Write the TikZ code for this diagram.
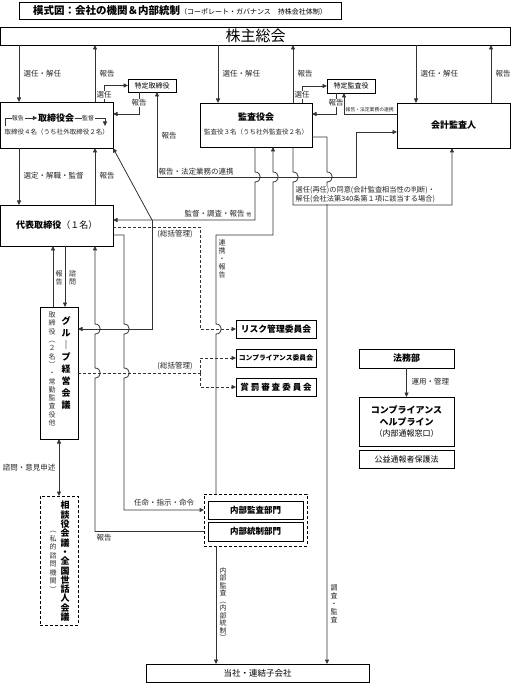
\documentclass[tikz,border=0pt]{standalone}
\usepackage{fontspec}
\setmainfont{Noto Sans CJK JP}
\usetikzlibrary{arrows.meta}
\newcommand\fsz[1]{\fontsize{#1}{#1}\selectfont}
\def\vsEnd{}
\def\vsA#1{\ifx#1\vsEnd\else\hbox to 1em{\hss#1\hss}\expandafter\vsA\fi}
\newcommand\vstack[2]{\vbox{\baselineskip=#1\relax\lineskip=0pt\relax\lineskiplimit=-\maxdimen\vsA#2\vsEnd}}
\newcommand\bd[2]{-- (#1,#2-5) .. controls (#1+7,#2-5) and (#1+7,#2+5) .. (#1,#2+5)}
\newcommand\bu[2]{-- (#1,#2+5) .. controls (#1+7,#2+5) and (#1+7,#2-5) .. (#1,#2-5)}
\tikzset{
  ln/.style={draw=black!80, line width=0.8pt},
  arr/.style={ln, -{Triangle[length=4.5pt,width=4pt]}},
  darr/.style={ln, {Triangle[length=4.5pt,width=4pt]}-{Triangle[length=4.5pt,width=4pt]}},
  dsh/.style={ln, dash pattern=on 3pt off 2pt},
  dsharr/.style={dsh, -{Triangle[length=4.5pt,width=4pt]}},
  box/.style={draw=black, line width=0.9pt, fill=white, inner sep=0pt, outer sep=0pt, align=center},
  dbox/.style={box, dash pattern=on 3pt off 2pt},
  lab/.style={inner sep=0.5pt, text=black!85, font=\fsz{7.5}},
  wlab/.style={lab, fill=white},
  vlab/.style={inner sep=0pt, anchor=north, text=black!85, font=\fsz{7}},
}
\begin{document}
\begin{tikzpicture}[x=1pt,y=-1pt]
\useasboundingbox (0,0) rectangle (511,684);
\fill[white] (0,0) rectangle (511,684);
% ---------- coordinates
\coordinate (x19) at (19,0);   \coordinate (x53) at (53,0);   \coordinate (x65) at (65,0);
\coordinate (x95) at (95,0);   \coordinate (x104) at (104,0); \coordinate (x139) at (139,0);
\coordinate (x157) at (157,0); \coordinate (x216) at (216,0); \coordinate (x218) at (218,0);
\coordinate (x255) at (255,0); \coordinate (x273) at (273,0); \coordinate (x293) at (293,0);
\coordinate (x302) at (302,0); \coordinate (x327) at (327,0); \coordinate (x336) at (336,0);
\coordinate (x344) at (344,0); \coordinate (x416) at (416,0); \coordinate (x452) at (452,0);
\coordinate (x491) at (491,0);
\coordinate (y114) at (0,114); \coordinate (y132) at (0,132); \coordinate (y137) at (0,137);
\coordinate (y220) at (0,220); \coordinate (y227) at (0,227); \coordinate (y235) at (0,235);
% ---------- boxes
\node[box, minimum width=322pt, minimum height=17pt] (title) at (180,10.5)
  {{\bfseries\fsz{10.5}模式図：会社の機関＆内部統制}{\fsz{7}（コーポレート・ガバナンス　持株会社体制）}};
\node[box, minimum width=510pt, minimum height=18pt, font=\fsz{15}] (kabu) at (255.5,36) {株主総会};
\node[box, minimum width=112.5pt, minimum height=46pt] (tk) at (56.75,125) {};
\node[box, minimum width=48pt, minimum height=13pt, font=\fsz{7}] (tt) at (152,85.5) {特定取締役};
\node[box, minimum width=112pt, minimum height=44pt] (kk) at (256,125) {};
\node[box, minimum width=48pt, minimum height=14pt, font=\fsz{7}] (tka) at (351,86) {特定監査役};
\node[box, minimum width=113pt, minimum height=45pt, font=\bfseries\fsz{9}] (ka) at (453.5,125.5) {会計監査人};
\node[box, minimum width=112.5pt, minimum height=41pt, font=\bfseries\fsz{9}] (dh) at (56.75,225.5) {代表取締役{\mdseries（１名）}};
\node[box, minimum width=38pt, minimum height=132pt] (gr) at (59,373) {};
\node[box, minimum width=80pt, minimum height=18pt, font=\bfseries\fsz{8.8}] (risk) at (276,329) {リスク管理委員会};
\node[box, minimum width=80pt, minimum height=18pt, font=\bfseries\fsz{6.8}] (comp) at (276,358) {コンプライアンス委員会};
\node[box, minimum width=80pt, minimum height=18pt, font=\bfseries\fsz{8.5}] (shou) at (276,387)
  {賞\hspace{2pt}罰\hspace{2pt}審\hspace{2pt}査\hspace{2pt}委\hspace{2pt}員\hspace{2pt}会};
\node[box, minimum width=95pt, minimum height=19pt, font=\bfseries\fsz{9}] (houmu) at (406.5,358.5) {法務部};
\node[box, minimum width=95pt, minimum height=49pt, font=\bfseries\fontsize{9}{11.5}\selectfont] (help) at (406.5,421.5)
  {コンプライアンス\\ヘルプライン\\{\mdseries\fsz{8}（内部通報窓口）}};
\node[box, minimum width=95pt, minimum height=18pt, font=\fsz{8}] (koueki) at (406.5,459) {公益通報者保護法};
\node[dbox, minimum width=38pt, minimum height=129pt] (soudan) at (59,560.5) {};
\node[dbox, minimum width=103pt, minimum height=52pt] (ngrp) at (255.5,520) {};
\node[box, minimum width=95pt, minimum height=18pt, font=\bfseries\fsz{8.5}] (nk) at (255.5,510) {内部監査部門};
\node[box, minimum width=95pt, minimum height=19pt, font=\bfseries\fsz{8.5}] (nt) at (255.5,531.5) {内部統制部門};
\node[box, minimum width=223pt, minimum height=18pt, font=\fsz{8.5}] (tousha) at (257.5,673) {当社・連結子会社};
% ---------- box inner texts
\node[inner sep=0.5pt, font=\bfseries\fsz{9}] (tkt) at (56,118) {取締役会};
\node[lab, font=\fsz{6.5}] (tks) at (56.75,132) {取締役４名（うち社外取締役２名）};
\node[inner sep=0.5pt, font=\bfseries\fsz{9}] (kkt) at (256,117) {監査役会};
\node[lab, font=\fsz{6.5}] (kks) at (256,132) {監査役３名（うち社外監査役２名）};
\node[inner sep=0pt, anchor=north, font=\bfseries\fsz{9}] (grt) at (66,316) {\vstack{12pt}{グル｜プ経営会議}};
\node[inner sep=0pt, anchor=north, font=\fsz{7}, text=black!80] (grs) at (52,312) {\vstack{8.3pt}{取締役︵２名︶・常勤監査役他}};
\node[inner sep=0pt, anchor=north, font=\bfseries\fsz{9}] (sdt) at (65,501) {\vstack{9.3pt}{相談役会議・全国世話人会議}};
\node[inner sep=0pt, anchor=north, font=\fsz{7}, text=black!80] (sds) at (53,531) {\vstack{8.5pt}{︵私的諮問機関︶}};
% ---------- connectors
\coordinate (tkL) at (5,126);
\coordinate (tkR) at (105,126);
\draw[arr] (tkL) -- (5,118) -- (tkt.west);
\draw[arr] (tkt.east) -- (105,118) -- (tkR);
\draw[arr] (kabu.south -| x19) -- (tk.north -| x19);
\draw[arr] (tk.north -| x95) -- (kabu.south -| x95);
\draw[arr] (tk.north -| x104) |- (tt.west);
\draw[arr] (tt.south -| x139) |- (tk.east |- y114);
\draw[darr] (tt.south -| x157) -- (157,177) -- (356,177) -- (356,132) -- (ka.west |- y132);
\draw[arr] (kabu.south -| x218) -- (kk.north -| x218);
\draw[arr] (kk.north -| x293) -- (kabu.south -| x293);
\draw[arr] (kk.north -| x302) |- (tka.west);
\draw[arr] (tka.south -| x336) |- (kk.east |- y114);
\draw[arr] (ka.west |- y114) -| (tka.south -| x344);
\draw[arr] (kabu.south -| x416) -- (ka.north -| x416);
\draw[arr] (ka.north -| x491) -- (kabu.south -| x491);
\draw[arr] (tk.south -| x19) -- (dh.north -| x19);
\draw[arr] (dh.north -| x95) -- (tk.south -| x95);
% from 監査役会
\coordinate (j1) at (152,220);
\draw[arr] (kk.south -| x255) \bd{255}{177} -- (255,220) -- (dh.east |- y220);
\draw[arr] (j1) -- (tk.south east);
\draw[arr] (j1) -- (152,329) -- (gr.east |- risk.west);
\draw[arr] (ngrp.north -| x216) \bu{216}{329} -- (216,235) -- (273,235) \bu{273}{177} -- (kk.south -| x273);
\draw[arr] (kk.south -| x293) \bd{293}{177} -- (293,205) -- (452,205) -- (ka.south -| x452);
\draw[arr] (kk.east |- y137) -- (327,137) \bd{327}{177} -- (tousha.north -| x327);
% from 代表取締役
\draw[arr] (dh.east |- y235) -- (124,235) \bd{124}{329} \bd{124}{373} |- (ngrp.west |- nk);
\draw[arr] (ngrp.west |- nt) -- (95,531.5) \bu{95}{373} \bu{95}{329} -- (dh.south -| x95);
\draw[arr] (gr.north -| x53) -- (dh.south -| x53);
\draw[arr] (dh.south -| x65) -- (gr.north -| x65);
\draw[dsharr] (dh.east |- y227) -| (200,329) -- (risk.west);
\coordinate (j2) at (200,373);
\draw[dsh] (gr.east) -- (j2);
\draw[dsharr] (j2) |- (comp.west);
\draw[dsharr] (j2) |- (shou.west);
\draw[arr] (houmu.south) -- (help.north);
\draw[darr] (gr.south) -- (soudan.north);
\draw[arr] (ngrp.south -| x216) -- (tousha.north -| x216);
% ---------- labels
\node[wlab, font=\fsz{6}] (lh) at (18,118) {報告};
\node[wlab, font=\fsz{6}] (lk) at (88,118) {監督};
\node[lab, anchor=west] (l1) at (23,74) {選任・解任};
\node[lab, anchor=west] (l2) at (99,74) {報告};
\node[wlab] (l3) at (104,95) {選任};
\node[wlab] (l4) at (139,103) {報告};
\node[lab, anchor=west] (l5) at (161,136) {報告};
\node[lab, anchor=south west] (l6) at (158,176) {報告・法定業務の連携};
\node[lab, anchor=west] (l7) at (222,74) {選任・解任};
\node[lab, anchor=west] (l8) at (297,74) {報告};
\node[wlab] (l9) at (302,95) {選任};
\node[wlab] (l10) at (336,103) {報告};
\node[lab, anchor=south west, font=\fsz{4.8}] (l11) at (345,113) {報告・法定業務の連携};
\node[lab, anchor=west] (l12) at (420,74) {選任・解任};
\node[lab, anchor=west] (l13) at (495,74) {報告};
\node[lab, anchor=west] (l14) at (23,176) {選定・解職・監督};
\node[lab, anchor=west] (l15) at (99,176) {報告};
\node[lab, anchor=south east] (l16) at (252,218) {監督・調査・報告 {\fsz{5}他}};
\node[lab] (l17) at (175,234) {(総括管理)};
\node[lab] (l18) at (175,366) {(総括管理)};
\node[lab, anchor=south west, fill=white, align=left, font=\fontsize{7.2}{9}\selectfont] (l19) at (295,204)
  {選任(再任)の同意(会計監査相当性の判断)・\\解任(会社法第340条第１項に該当する場合)};
\node[vlab] (l20) at (222,239) {\vstack{8pt}{連携・報告}};
\node[vlab] (l21) at (59,270) {\vstack{8pt}{報告}};
\node[vlab] (l22) at (72.5,270) {\vstack{8pt}{諮問}};
\node[lab, anchor=west] (l23) at (411,382) {運用・管理};
\node[lab, anchor=east] (l24) at (56,468) {諮問・意見申述};
\node[lab] (l25) at (164,503) {任命・指示・命令};
\node[lab] (l26) at (104,538) {報告};
\node[vlab] (l27) at (223,567) {\vstack{7.5pt}{内部監査︵内部統制︶}};
\node[vlab] (l28) at (334,585) {\vstack{8pt}{調査・監査}};
\end{tikzpicture}
\end{document}
